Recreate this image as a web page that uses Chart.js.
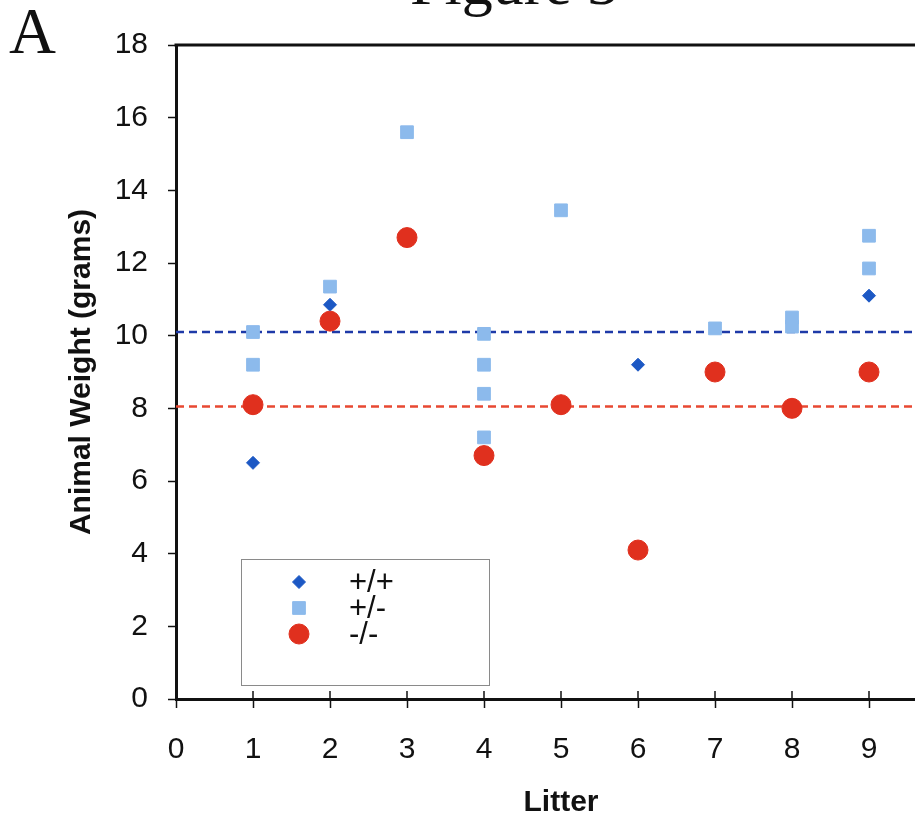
<!DOCTYPE html>
<html>
<head>
<meta charset="utf-8">
<title>Figure 3 - Animal Weight</title>
<script src="https://cdn.jsdelivr.net/npm/chart.js@4/dist/chart.umd.min.js"></script>
<style>
  body { margin: 0; background: #fff; overflow: hidden; }
  canvas { display: block; }
</style>
</head>
<body>
<canvas id="chartCanvas" width="1000" height="825"></canvas>
<script>
// Valeurs : litter (x) et poids en grammes (y)
const wtLitter = [1, 2, 6, 9];
const wtWeight = [6.5, 10.85, 9.2, 11.1];

const hetLitter = [1, 1, 2, 3, 4, 4, 4, 4, 5, 7, 8, 8, 9, 9];
const hetWeight = [10.1, 9.2, 11.35, 15.6, 10.05, 9.2, 8.4, 7.2, 13.45, 10.2, 10.5, 10.25, 12.75, 11.85];

const koLitter = [1, 2, 3, 4, 5, 6, 7, 8, 9];
const koWeight = [8.1, 10.4, 12.7, 6.7, 8.1, 4.1, 9.0, 8.0, 9.0];

// lignes pointillées (moyennes)
const lineRange = [0, 10];
const wtMean = 10.1;
const koMean = 8.05;

const genotypes = ["+/+", "+/-", "-/-"];
const xTicks = [0, 1, 2, 3, 4, 5, 6, 7, 8, 9, 10];
const yTicks = [0, 2, 4, 6, 8, 10, 12, 14, 16, 18];

const toPoints = (xs, ys) => xs.map((x, i) => ({ x: x, y: ys[i] }));

const blueDark = "rgb(28, 88, 196)";
const blueLight = "rgb(140, 186, 236)";
const red = "rgb(224, 48, 30)";

// bordure haut + droite du cadre
const framePlugin = {
  id: "frame",
  afterDraw(chart) {
    const { ctx, chartArea } = chart;
    ctx.save();
    ctx.strokeStyle = "#111";
    ctx.lineWidth = 3;
    ctx.beginPath();
    ctx.moveTo(chartArea.left - 1.5, chartArea.top);
    ctx.lineTo(chartArea.right, chartArea.top);
    ctx.lineTo(chartArea.right, chartArea.bottom);
    ctx.stroke();
    // petits traits au dessus de l'axe x (les ticks traversent l'axe)
    const xs = chart.scales.x;
    ctx.lineWidth = 1.5;
    xs.ticks.forEach((t) => {
      const px = xs.getPixelForValue(t.value);
      ctx.beginPath();
      ctx.moveTo(px, chartArea.bottom - 8);
      ctx.lineTo(px, chartArea.bottom);
      ctx.stroke();
    });
    ctx.restore();
  },
};

// légende dans un cadre, dessinée à la main
const legendPlugin = {
  id: "boxLegend",
  afterDraw(chart) {
    const { ctx, chartArea } = chart;
    const left = chartArea.left + 65;
    const top = chartArea.top + 514;
    ctx.save();
    ctx.strokeStyle = "#8a8a8a";
    ctx.lineWidth = 1;
    ctx.strokeRect(left + 0.5, top + 0.5, 248, 126);
    ctx.font = "31px 'Liberation Sans', Arial, sans-serif";
    ctx.fillStyle = "#111";
    ctx.textBaseline = "middle";
    for (let i = 0; i < 3; i++) {
      const ds = chart.data.datasets[i];
      const y = top + 23 + i * 26;
      ctx.fillStyle = ds.backgroundColor;
      ctx.strokeStyle = ds.backgroundColor;
      Chart.helpers.drawPoint(ctx, { pointStyle: ds.pointStyle, radius: ds.pointRadius, borderWidth: 1 }, left + 58, y);
      ctx.fillStyle = "#111";
      ctx.fillText(ds.label, left + 108, y + 1);
    }
    ctx.restore();
  },
};

// titre "Figure 3" coupé en haut et lettre "A"
const headingPlugin = {
  id: "headings",
  afterDraw(chart) {
    const { ctx } = chart;
    ctx.save();
    ctx.fillStyle = "#111";
    ctx.textBaseline = "alphabetic";
    ctx.font = "62px 'Liberation Serif', 'Times New Roman', serif";
    ctx.fillText("Figure 3", 410, 4);
    ctx.font = "65px 'Liberation Serif', 'Times New Roman', serif";
    ctx.fillText("A", 9, 53);
    ctx.restore();
  },
};

const ctx = document.getElementById("chartCanvas").getContext("2d");
new Chart(ctx, {
  type: "scatter",
  data: {
    datasets: [
      {
        label: genotypes[0],
        data: toPoints(wtLitter, wtWeight),
        pointStyle: "rectRot",
        pointRadius: 6.5,
        backgroundColor: blueDark,
        borderColor: blueDark,
        borderWidth: 1,
        order: 1,
      },
      {
        label: genotypes[1],
        data: toPoints(hetLitter, hetWeight),
        pointStyle: "rect",
        pointRadius: 9,
        backgroundColor: blueLight,
        borderColor: blueLight,
        borderWidth: 1,
        order: 2,
      },
      {
        label: genotypes[2],
        data: toPoints(koLitter, koWeight),
        pointStyle: "circle",
        pointRadius: 10,
        backgroundColor: red,
        borderColor: red,
        borderWidth: 1,
        order: 0,
      },
      {
        type: "line",
        label: "mean +/+",
        data: lineRange.map((x) => ({ x: x, y: wtMean })),
        borderColor: "rgb(30, 58, 168)",
        borderWidth: 2.5,
        borderDash: [8, 5],
        pointRadius: 0,
        order: 10,
      },
      {
        type: "line",
        label: "mean -/-",
        data: lineRange.map((x) => ({ x: x, y: koMean })),
        borderColor: "rgb(232, 72, 50)",
        borderWidth: 2.5,
        borderDash: [8, 5],
        pointRadius: 0,
        order: 10,
      },
    ],
  },
  options: {
    responsive: false,
    animation: false,
    layout: { padding: { top: 45, right: 54, left: 0, bottom: 0 } },
    plugins: {
      legend: { display: false },
      tooltip: { enabled: false },
    },
    scales: {
      x: {
        type: "linear",
        min: 0,
        max: 10,
        afterBuildTicks: (s) => { s.ticks = xTicks.map((v) => ({ value: v })); },
        afterFit: (s) => { s.height = 126; },
        grid: { drawOnChartArea: false, drawTicks: true, tickLength: 9, tickWidth: 1.5, tickColor: "#111" },
        border: { display: true, color: "#111", width: 3 },
        ticks: { color: "#111", padding: 24, font: { family: "'Liberation Sans', Arial, sans-serif", size: 30 } },
        title: {
          display: true,
          text: "Litter",
          color: "#111",
          padding: { bottom: 4 },
          font: { family: "'Liberation Sans', Arial, sans-serif", size: 30, weight: "bold" },
        },
      },
      y: {
        min: 0,
        max: 18,
        afterBuildTicks: (s) => { s.ticks = yTicks.map((v) => ({ value: v })); },
        afterFit: (s) => { s.width = 176; },
        grid: { drawOnChartArea: false, drawTicks: true, tickLength: 8, tickWidth: 1.5, tickColor: "#111" },
        border: { display: true, color: "#111", width: 3 },
        ticks: { color: "#111", padding: 20, font: { family: "'Liberation Sans', Arial, sans-serif", size: 30 } },
        title: {
          display: true,
          text: "Animal Weight (grams)",
          color: "#111",
          padding: { top: 64 },
          font: { family: "'Liberation Sans', Arial, sans-serif", size: 30, weight: "bold" },
        },
      },
    },
  },
  plugins: [framePlugin, legendPlugin, headingPlugin],
});
</script>
</body>
</html>
